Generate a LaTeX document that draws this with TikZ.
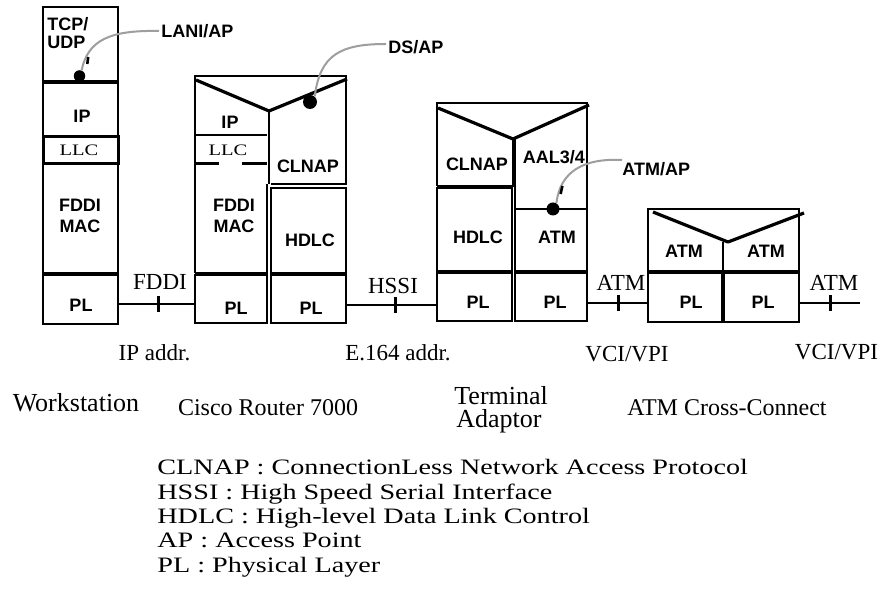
\documentclass[tikz,border=0pt]{standalone}
\usepackage{fontspec}
\setmainfont{Liberation Serif}
\setsansfont{Liberation Sans}
\newfontfamily\wideserif{Liberation Serif}[FakeStretch=1.28]
\usetikzlibrary{fit}
\begin{document}
\begin{tikzpicture}[x=0.5pt,y=-0.5pt,
  box/.style={draw, line width=1pt, inner sep=0pt},
  edge/.style={line width=1pt},
  sl/.style={font=\sffamily\bfseries\fontsize{9}{10.5}\selectfont, inner sep=0pt, align=center},
  sr/.style={font=\fontsize{11.5}{13}\selectfont, inner sep=0pt},
  llc/.style={font=\wideserif\fontsize{8}{9}\selectfont, inner sep=0pt},
  dev/.style={font=\fontsize{13}{15}\selectfont, inner sep=0pt},
  devs/.style={font=\fontsize{12}{14}\selectfont, inner sep=0pt},
  leg/.style={font=\wideserif\fontsize{11}{12}\selectfont, inner sep=0pt, anchor=base west},
  vee/.style={line width=1.6pt, line join=round},
  link/.style={line width=1pt},
  tickmark/.style={fill=black, minimum width=1.5pt, minimum height=8pt, inner sep=0pt},
  apline/.style={draw=black!38, line width=1pt},
  apdot/.style={circle, fill=black, inner sep=0pt},
]
\useasboundingbox (0,0) rectangle (885,603);
\fill[white] (0,0) rectangle (885,603);

% ---------------- Workstation
\node[box, fit={(43,7) (118,81)}] (wsTCP) {};
\node[box, fit={(43,83) (118,137)}] (wsIP) {};
\node[box, line width=1.5pt, fit={(43,137) (118,164)}] (wsLLC) {};
\node[box, fit={(43,164) (118,273)}] (wsMAC) {};
\node[box, fit={(43,275) (118,324)}] (wsPL) {};
\node[sl, anchor=north west, align=left, font=\sffamily\bfseries\fontsize{9}{9}\selectfont] (tTCP) at (47,17) {TCP/\\UDP};
\node[sl] (tIPa) at (82,116) {IP};
\node[llc] (tLLCa) at (79,150) {LLC};
\node[sl] (tMACa) at (80,216) {FDDI\\MAC};
\node[sl] (tPLa) at (81,305) {PL};

% ---------------- Cisco Router
\draw[edge] (195,273) -- (195,76) -- (346,76) -- (346,184) -- (271,184);
\draw[edge] (269,111) -- (269,184);
\draw[edge] (267,184) -- (267,273) -- (195,273);
\draw[edge] (195,135) -- (267,135);
\draw[line width=1.5pt] (195,164) -- (219,164);
\draw[line width=1.5pt] (242,164) -- (267,164);
\node[box, fit={(271,188) (346,273)}] (rtHDLC) {};
\draw[vee] (196,80) -- (269,111) -- (347,79);
\node[box, fit={(195,275) (267,323)}] (rtPL1) {};
\node[box, fit={(271,275) (346,323)}] (rtPL2) {};
\node[sl] (tIPb) at (230,122) {IP};
\node[llc] (tLLCb) at (228,150) {LLC};
\node[sl] (tCLb) at (308,166) {CLNAP};
\node[sl] (tMACb) at (234,216) {FDDI\\MAC};
\node[sl] (tHDb) at (310,240) {HDLC};
\node[sl] (tPLb1) at (236,308) {PL};
\node[sl] (tPLb2) at (311,308) {PL};

% ---------------- Terminal Adaptor
\draw[edge] (437,186) -- (437,103) -- (587,103) -- (587,209);
\draw[edge] (513,139) -- (513,186) -- (437,186);
\draw[edge] (515,139) -- (515,209);
\node[box, fit={(437,188) (512,271)}] (taHDLC) {};
\node[box, fit={(515,209) (587,271)}] (taATM) {};
\draw[vee] (438,108) -- (513,139) -- (589,105);
\node[box, fit={(437,273) (512,321)}] (taPL1) {};
\node[box, fit={(515,273) (587,321)}] (taPL2) {};
\node[sl] (tCLc) at (477,164) {CLNAP};
\node[sl] (tAAL) at (554,157) {AAL3/4};
\node[sl] (tHDc) at (478,237) {HDLC};
\node[sl] (tATMc) at (557,237) {ATM};
\node[sl] (tPLc1) at (478,302) {PL};
\node[sl] (tPLc2) at (555,302) {PL};

% ---------------- ATM Cross-Connect
\node[box, fit={(648,209) (799,271)}] (xcATM) {};
\draw[edge] (723,242) -- (723,271);
\draw[vee] (653,212) -- (728,242) -- (804,213);
\node[box, fit={(648,273) (722,322)}] (xcPL1) {};
\node[box, fit={(724,273) (799,322)}] (xcPL2) {};
\node[sl] (tATMd1) at (684,251) {ATM};
\node[sl] (tATMd2) at (766,251) {ATM};
\node[sl] (tPLd1) at (691,302) {PL};
\node[sl] (tPLd2) at (763,302) {PL};

% ---------------- Links
\coordinate (xcEnd) at (860,303);
\draw[link] (wsPL.east |- 0,304) -- node[tickmark, pos=0.52]{} (rtPL1.west |- 0,304);
\draw[link] (rtPL2.east |- 0,305.5) -- node[tickmark, pos=0.54]{} (taPL1.west |- 0,305.5);
\draw[link] (taPL2.east |- 0,303) -- node[tickmark, pos=0.52]{} (xcPL1.west |- 0,303);
\draw[link] (xcPL2.east |- xcEnd) -- node[tickmark, pos=0.51]{} (xcEnd);
\node[sr] (lFDDI) at (160,282) {FDDI};
\node[sr] (lHSSI) at (393,286) {HSSI};
\node[sr] (lATM1) at (621,283) {ATM};
\node[sr] (lATM2) at (834,283) {ATM};
\node[sr] (aIP) at (154.5,353) {IP addr.};
\node[sr] (aE) at (398,353) {E.164 addr.};
\node[sr] (aV1) at (627,354) {VCI/VPI};
\node[sr] (aV2) at (836.5,352) {VCI/VPI};

% ---------------- Access points
\node[apdot, minimum size=5.75pt] (d1) at (79.5,76) {};
\node[sl, anchor=west] (lani) at (161,31) {LANI/AP};
\draw[apline] (d1.70) .. controls (88,40) and (110,30) .. ([xshift=-1pt]lani.west);
\draw[line width=1.3pt] (87.3,64) -- (88.2,57);

\node[apdot, minimum size=7pt] (d2) at (310,102) {};
\node[sl, anchor=west] (dsap) at (388,47) {DS/AP};
\draw[apline] (d2.50) .. controls (320,55) and (340,44) .. ([xshift=-1pt,yshift=1.5pt]dsap.west);

\node[apdot, minimum size=6.5pt] (d3) at (553,209) {};
\node[sl, anchor=north west] (atmap) at (622,162) {ATM/AP};
\draw[apline] (d3.60) .. controls (560,172) and (583,158) .. ([yshift=1pt]atmap.north west);
\draw[line width=1.3pt] (560.6,194) -- (562.4,186);

% ---------------- Device names
\node[dev, anchor=base] (nWS) at (76,412) {Workstation};
\node[devs, anchor=base] (nRT) at (268,416) {Cisco Router 7000};
\node[dev, anchor=base west] (nTA1) at (454,405) {Terminal};
\node[dev, anchor=base west] (nTA2) at (456,428) {Adaptor};
\node[devs, anchor=base] (nXC) at (727,416) {ATM Cross-Connect};

% ---------------- Legend
\node[leg] (g1) at (157,475) {CLNAP : ConnectionLess Network Access Protocol};
\node[leg] (g2) at (157,499.5) {HSSI : High Speed Serial Interface};
\node[leg] (g3) at (157,523.8) {HDLC : High-level Data Link Control};
\node[leg] (g4) at (157,548) {AP : Access Point};
\node[leg] (g5) at (157,572.3) {PL : Physical Layer};
\end{tikzpicture}
\end{document}
